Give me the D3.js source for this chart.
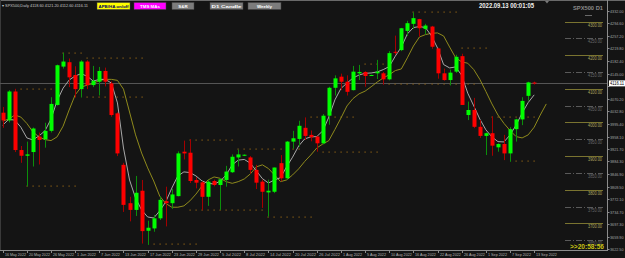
<!DOCTYPE html>
<html>
<head>
<meta charset="utf-8">
<script src="https://cdn.jsdelivr.net/npm/d3@7"></script>
<style>
  body { margin: 0; background: #141414; }
  svg { display: block; }
  text { font-family: "Liberation Sans", Arial, sans-serif; }
</style>
</head>
<body>
<div id="wide"></div>
<script>
// SPX500 daily bars, 16 May 2022 .. 13 Sep 2022 (index = bar number)
const opens = [4029, 4006, 4092, 3918, 3901, 3912, 3958, 3950, 3975, 4052,
    4166, 4179, 4141, 4099, 4181, 4111, 4121, 4153, 4116, 4027,
    3874, 3760, 3740, 3797, 3678, 3685, 3715, 3766, 3760, 3781,
    3913, 3910, 3829, 3822, 3779, 3826, 3814, 3829, 3852, 3896,
    3903, 3896, 3859, 3824, 3792, 3794, 3879, 3834, 3943, 3951,
    3984, 3963, 3958, 3938, 4020, 4103, 4136, 4121, 4096, 4146,
    4150, 4140, 4146, 4146, 4128, 4210, 4215, 4272, 4293, 4307,
    4278, 4285, 4220, 4146, 4126, 4151, 4197, 4022, 4037, 3987,
    3960, 3968, 3926, 3936, 3908, 3980, 4009, 4079, 4118.6];
const highs = [4046, 4096, 4100, 3930, 3943, 3985, 3970, 3999, 4075, 4172,
    4207, 4190, 4167, 4185, 4185, 4168, 4165, 4163, 4122, 4030,
    3880, 3779, 3841, 3829, 3708, 3725, 3780, 3809, 3803, 3914,
    3946, 3950, 3837, 3825, 3830, 3830, 3835, 3871, 3905, 3919,
    3905, 3900, 3874, 3830, 3830, 3866, 3903, 3945, 3975, 4005,
    4015, 3976, 3960, 4025, 4106, 4140, 4145, 4140, 4168, 4171,
    4152, 4142, 4186, 4150, 4212, 4258, 4281, 4302, 4327, 4308,
    4293, 4287, 4222, 4160, 4157, 4201, 4204, 4062, 4073, 4007,
    3970, 4018, 3938, 3963, 3986, 4011, 4075, 4121, 4121.2];
const lows = [3984, 4000, 3912, 3880, 3810, 3869, 3875, 3925, 3970, 4050,
    4160, 4105, 4074, 4074, 4099, 4105, 4080, 4107, 4017, 3900,
    3734, 3706, 3722, 3640, 3636, 3675, 3710, 3691, 3743, 3780,
    3890, 3820, 3804, 3739, 3752, 3810, 3740, 3809, 3850, 3869,
    3900, 3847, 3802, 3746, 3720, 3790, 3825, 3830, 3922, 3928,
    3948, 3944, 3913, 3935, 3993, 4080, 4096, 4080, 4095, 4126,
    4106, 4138, 4129, 4112, 4125, 4201, 4212, 4257, 4278, 4255,
    4262, 4219, 4130, 4124, 4110, 4147, 4052, 4007, 3983, 3954,
    3903, 3901, 3913, 3888, 3883, 3943, 3992, 4065, 4112.6];
const closes = [4006, 4092, 3918, 3901, 3905, 3982, 3948, 3975, 4055, 4170,
    4181, 4134, 4099, 4181, 4111, 4124, 4153, 4121, 4022, 3908,
    3755, 3740, 3791, 3677, 3687, 3715, 3770, 3760, 3786, 3908,
    3908, 3826, 3821, 3779, 3824, 3814, 3831, 3854, 3898, 3905,
    3904, 3859, 3821, 3794, 3797, 3866, 3834, 3943, 3953, 3990,
    3960, 3956, 3938, 4020, 4103, 4131, 4121, 4091, 4151, 4150,
    4138, 4141, 4151, 4128, 4206, 4207, 4280, 4295, 4310, 4280,
    4288, 4225, 4146, 4126, 4148, 4195, 4052, 4037, 3987, 3960,
    3968, 3931, 3936, 3908, 3980, 4009, 4064, 4119, 4116.1];

// fast MA (gray) and slow MA (olive, drawn 2 bars ahead so it has 2 extra points)
const fastMA = [3992, 4009, 4007, 3986, 3954, 3948, 3960, 3975, 4010, 4064,
    4102, 4126, 4138, 4145, 4137, 4123, 4128, 4128, 4117, 4058,
    3924, 3829, 3775, 3740, 3719, 3716, 3737, 3764, 3805, 3841,
    3853, 3851, 3841, 3826, 3819, 3817, 3825, 3844, 3874, 3888,
    3890, 3879, 3856, 3833, 3820, 3829, 3836, 3868, 3897, 3930,
    3951, 3957, 3958, 3975, 4016, 4067, 4101, 4117, 4132, 4141,
    4146, 4147, 4150, 4157, 4166, 4197, 4224, 4263, 4282, 4285,
    4282, 4257, 4221, 4172, 4162, 4165, 4140, 4087, 4049, 4010,
    3978, 3957, 3943, 3942, 3963, 3992, 4028, 4059, 4082];
const slowMA = [4004, 4010, 4022, 4016, 3997, 3972, 3957, 3949, 3946, 3957,
    3989, 4037, 4082, 4105, 4111, 4116, 4125, 4128, 4128, 4125,
    4099, 4031, 3963, 3909, 3865, 3826, 3781, 3759, 3748, 3748,
    3752, 3767, 3787, 3811, 3829, 3838, 3834, 3824, 3819, 3824,
    3832, 3847, 3868, 3874, 3863, 3844, 3824, 3829, 3844, 3862,
    3884, 3903, 3924, 3936, 3946, 3979, 4013, 4049, 4071, 4085,
    4093, 4106, 4120, 4132, 4142, 4154, 4159, 4192, 4227, 4254,
    4261, 4265, 4266, 4257, 4224, 4192, 4180, 4176, 4157, 4128,
    4092, 4055, 4022, 3997, 3976, 3958, 3954, 3963, 3986, 4022, 4055];

// date labels, one every 4 bars
const dateLabels = ["16 May 2022", "20 May 2022", "26 May 2022", "1 Jun 2022", "7 Jun 2022",
    "13 Jun 2022", "17 Jun 2022", "23 Jun 2022", "29 Jun 2022", "5 Jul 2022", "8 Jul 2022",
    "14 Jul 2022", "20 Jul 2022", "26 Jul 2022", "1 Aug 2022", "5 Aug 2022", "10 Aug 2022",
    "16 Aug 2022", "22 Aug 2022", "26 Aug 2022", "1 Sep 2022", "7 Sep 2022", "13 Sep 2022"];

// right price scale
const priceTicks = [4332.00, 4294.60, 4257.20, 4219.80, 4182.40, 4145.00, 4107.60, 4070.20,
    4032.80, 3995.40, 3958.10, 3921.70, 3884.30, 3846.90, 3809.50, 3772.10, 3734.70,
    3697.30, 3659.90, 3622.50];
const roundLevels = [4300, 4250, 4200, 4150, 4100, 4050, 4000, 3950, 3900, 3850, 3800, 3750, 3700, 3650];
const bidPrice = 4116.11;

// dotted support / resistance segments: first bar, last bar, price
const srFrom = [68, 10, 14, 3, 14, 31, 39, 31, 44, 25, 4, 60, 64, 51, 53, 76, 81, 85];
const srTo = [75, 13, 23, 8, 23, 38, 49, 43, 51, 32, 12, 64, 78, 58, 62, 80, 88, 88];
const srPrice = [4328, 4206, 4191, 4098, 4075, 3948, 3920, 3740, 3720, 3639, 3811, 4174, 4114, 4015, 3913, 4220, 4017, 3885];

const buttons = [
    { label: "APB/HA on/off", x: 97, w: 33, fill: "#ffff00", color: "#000060" },
    { label: "TMS MAs", x: 134, w: 32, fill: "#ff00ff", color: "#ffffff" },
    { label: "S&R", x: 172, w: 22, fill: "#7c7c7c", color: "#ffffff" },
    { label: "D1 Candle", x: 210, w: 33, fill: "#7c7c7c", color: "#ffffff" },
    { label: "Weekly", x: 248, w: 33, fill: "#7c7c7c", color: "#ffffff" }
];

const W = 625, H = 258;
const plotRight = 607.5, plotBottom = 250;

let svg = d3.select("#wide")
    .append("svg")
    .attr("width", W)
    .attr("height", H);

svg.append("rect").attr("width", W).attr("height", H).attr("fill", "#141414");

const x = d3.scaleLinear().domain([0, 88]).range([2.7, 534.2]);
const y = d3.scaleLinear().domain([3650, 4300]).range([240.2, 21.5]);

let plot = svg.append("g");

// frame
plot.append("line").attr("x1", 0).attr("x2", W).attr("y1", 0.5).attr("y2", 0.5)
    .attr("stroke", "#6a6a6a");
plot.append("line").attr("x1", 0.5).attr("x2", 0.5).attr("y1", 0).attr("y2", plotBottom)
    .attr("stroke", "#3a3a3a");

// bid line
plot.append("line")
    .attr("x1", 0).attr("x2", plotRight)
    .attr("y1", Math.round(y(bidPrice)) + 0.5).attr("y2", Math.round(y(bidPrice)) + 0.5)
    .attr("stroke", "#555555");

// S&R dotted segments
srPrice.forEach((p, k) => {
    d3.range(srFrom[k], srTo[k] + 1).forEach(i => {
        plot.append("rect")
            .attr("x", Math.round(x(i)) - 0.5)
            .attr("y", Math.round(y(p)) - 0.5)
            .attr("width", 1.2).attr("height", 1.2)
            .attr("fill", "#8a5e14");
    });
});

// round number levels on the right
roundLevels.forEach(lv => {
    const solid = lv % 100 === 0;
    const yy = Math.round(y(lv)) + 0.5;
    plot.append("line")
        .attr("x1", 565).attr("x2", 603)
        .attr("y1", yy).attr("y2", yy)
        .attr("stroke", solid ? "#7a7430" : "#5a5a5a")
        .attr("stroke-dasharray", solid ? null : "6,2,1,2");
    plot.append("text")
        .attr("x", 588).attr("y", yy + 4)
        .attr("textLength", 14).attr("lengthAdjust", "spacingAndGlyphs")
        .attr("font-size", 4.6)
        .attr("fill", solid ? "#b0a860" : "#6a6a6a")
        .text(lv.toFixed(2));
});

// moving averages
const line = d3.line().x((d, i) => x(i)).y(d => y(d));
plot.append("path").datum(slowMA).attr("d", line)
    .attr("fill", "none").attr("stroke", "#8f8a1c").attr("stroke-width", 1);
plot.append("path").datum(fastMA).attr("d", line)
    .attr("fill", "none").attr("stroke", "#a8a8a8").attr("stroke-width", 1);

// candles
const bars = d3.range(closes.length);
let candles = plot.append("g").selectAll("g")
    .data(bars)
    .enter().append("g");

candles.append("line")
    .attr("x1", i => Math.round(x(i)) + 0.5).attr("x2", i => Math.round(x(i)) + 0.5)
    .attr("y1", i => y(highs[i])).attr("y2", i => y(lows[i]))
    .attr("stroke", i => closes[i] >= opens[i] ? "#0b8f0b" : "#a40000");

candles.append("rect")
    .attr("x", i => Math.round(x(i)) - 1.5)
    .attr("width", 4)
    .attr("y", i => Math.min(y(opens[i]), y(closes[i])))
    .attr("height", i => Math.max(1, Math.abs(y(opens[i]) - y(closes[i]))))
    .attr("fill", i => closes[i] >= opens[i] ? "#00ff00" : "#ff0000");

// axes lines
svg.append("line").attr("x1", 0).attr("x2", plotRight).attr("y1", plotBottom + 0.5).attr("y2", plotBottom + 0.5)
    .attr("stroke", "#8c8c8c");
svg.append("line").attr("x1", plotRight).attr("x2", plotRight).attr("y1", 0).attr("y2", plotBottom + 1)
    .attr("stroke", "#8c8c8c");

// price axis
const yAxis = svg.append("g");
priceTicks.forEach(v => {
    const yy = Math.round(y(v)) + 0.5;
    yAxis.append("line").attr("x1", plotRight).attr("x2", plotRight + 2)
        .attr("y1", yy).attr("y2", yy).attr("stroke", "#8c8c8c");
    if (Math.abs(v - bidPrice) < 12) return; // hidden under the bid label
    yAxis.append("text")
        .attr("x", 610).attr("y", yy + 1.6)
        .attr("textLength", 13.5).attr("lengthAdjust", "spacingAndGlyphs")
        .attr("font-size", 4.4).attr("fill", "#a6a6a6")
        .text(v.toFixed(2));
});

// bid label
const by = y(bidPrice);
yAxis.append("rect").attr("x", 609).attr("y", by - 3).attr("width", 16).attr("height", 6)
    .attr("fill", "#ffffff");
yAxis.append("text").attr("x", 610).attr("y", by + 1.7)
    .attr("textLength", 14).attr("lengthAdjust", "spacingAndGlyphs")
    .attr("font-size", 4.6).attr("fill", "#000000").text(bidPrice.toFixed(2));

// date axis
const xAxis = svg.append("g");
dateLabels.forEach((lab, k) => {
    const xx = Math.round(x(k * 4)) + 0.5;
    xAxis.append("line").attr("x1", xx).attr("x2", xx)
        .attr("y1", plotBottom).attr("y2", plotBottom + 3).attr("stroke", "#8c8c8c");
    xAxis.append("text")
        .attr("x", xx + 1.5).attr("y", 255.6)
        .attr("textLength", lab.length * 1.9).attr("lengthAdjust", "spacingAndGlyphs")
        .attr("font-size", 4.4).attr("fill", "#b4b4b4")
        .text(lab);
});

// header text
svg.append("text").attr("x", 2).attr("y", 6.5)
    .attr("textLength", 86).attr("lengthAdjust", "spacingAndGlyphs")
    .attr("font-size", 3.8).attr("fill", "#c8c8c8")
    .text("\u25BE SPX500,Daily  4118.60 4121.20 4112.60 4116.11");

buttons.forEach(b => {
    svg.append("rect").attr("x", b.x).attr("y", 2.5).attr("width", b.w).attr("height", 7)
        .attr("fill", b.fill).attr("stroke", "#404040").attr("stroke-width", 0.5);
    const t = svg.append("text").attr("x", b.x + b.w / 2).attr("y", 7.6)
        .attr("text-anchor", "middle").attr("font-size", 4.4).attr("font-weight", "bold")
        .attr("fill", b.color).text(b.label);
    if (b.label.length > 8) t.attr("textLength", b.w - 3).attr("lengthAdjust", "spacingAndGlyphs");
});

svg.append("text").attr("x", 479).attr("y", 8.2)
    .attr("textLength", 55).attr("lengthAdjust", "spacingAndGlyphs")
    .attr("font-size", 6.4).attr("font-weight", "bold").attr("fill", "#f0f0f0")
    .text("2022.09.13 00:01:05");

svg.append("text").attr("x", 573).attr("y", 9.5)
    .attr("textLength", 30).attr("lengthAdjust", "spacingAndGlyphs")
    .attr("font-size", 5.6).attr("font-weight", "bold").attr("fill", "#8a8a8a")
    .text("SPX500 D1");
svg.append("rect").attr("x", 585).attr("y", 15).attr("width", 7).attr("height", 1)
    .attr("fill", "#6a6a6a");

// chart shift marker
svg.append("path").attr("d", "M545,1 L549,1 L547,3.5 Z").attr("fill", "#7a7a7a");

// countdown to next bar
svg.append("text").attr("x", 570).attr("y", 248.5)
    .attr("textLength", 34).attr("lengthAdjust", "spacingAndGlyphs")
    .attr("font-size", 7).attr("font-weight", "bold").attr("fill", "#c8c214")
    .text(">>20:58:56");
</script>
</body>
</html>
